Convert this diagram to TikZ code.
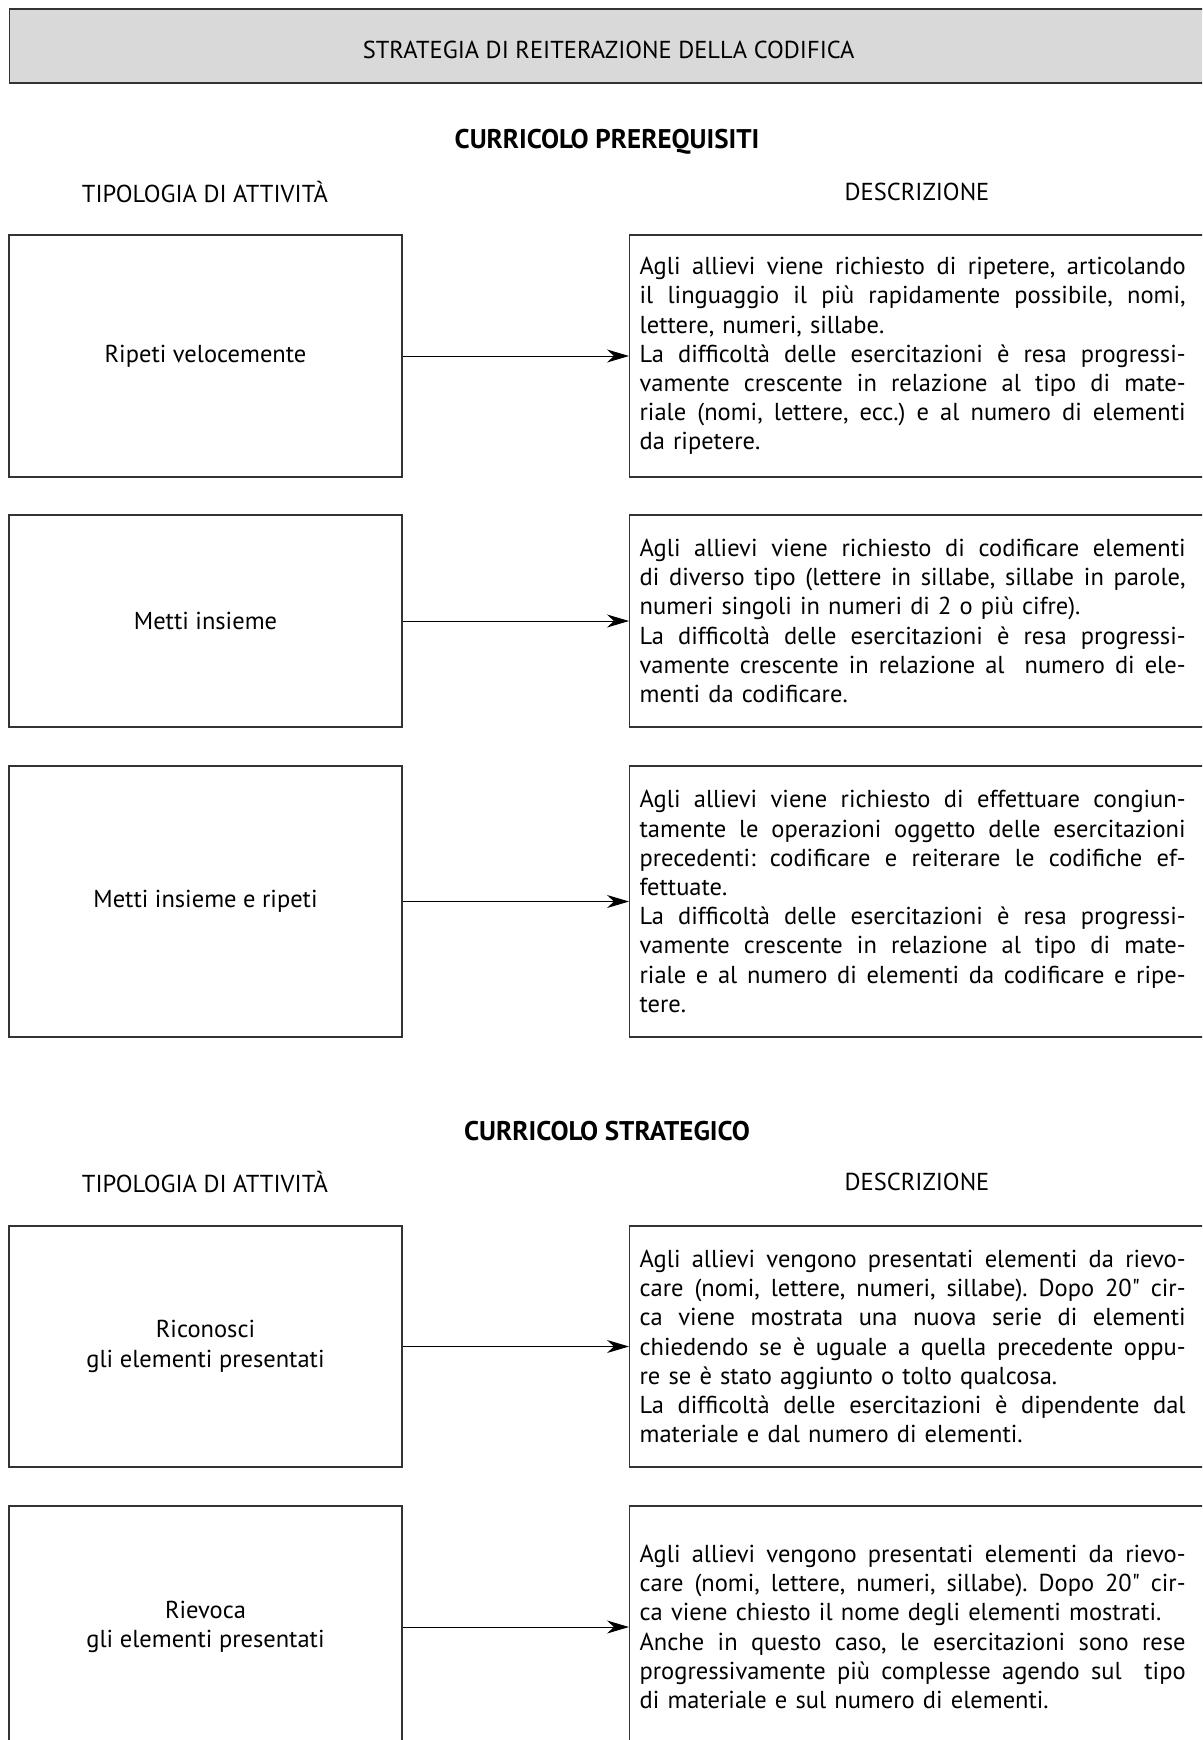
\documentclass[tikz,border=0pt]{standalone}
\usepackage{fontspec}
\setmainfont{PT Sans}
\usetikzlibrary{arrows.meta}

% one line of a description, stretched to the full width
\newcommand\jl[1]{\makebox[546pt][s]{\spaceskip=0pt\xspaceskip=0pt #1}}

\begin{document}
\frenchspacing
\begin{tikzpicture}[
	x=1pt, y=-1pt,
	every node/.style = {font=\fontsize{24.5}{29.2}\selectfont},
	frame/.style = {draw=black!80, line width=1.3pt},
	head/.style = {font=\fontsize{27}{30}\selectfont\bfseries},
	act/.style = {frame, shape=rectangle, minimum width=393pt,
		align=center, inner sep=0pt},
	desc/.style = {frame, shape=rectangle, anchor=west, text width=600pt,
		inner xsep=10pt, inner ysep=0pt, align=left},
	link/.style = {-{Stealth[length=22pt, width=13pt, inset=7pt]}, line width=1pt}]

	\clip (0,0) rectangle (1202,1740);

	\node[frame, fill=black!15, anchor=west, minimum width=1198pt,
		minimum height=74pt, inner sep=0pt, text height=24pt, text depth=0pt]
		(title) at (9,46) {STRATEGIA DI REITERAZIONE DELLA CODIFICA};

	% curricolo prerequisiti
	\node[head] (curPre) at (607,142) {CURRICOLO PREREQUISITI};
	\node (tipPre) at (205,192) {TIPOLOGIA DI ATTIVITÀ};
	\node (desPre) at (917,192) {DESCRIZIONE};

	\node[act, minimum height=242pt] (ripeti) at (205.5,356) {Ripeti velocemente};
	\node[desc, minimum height=242pt] (ripetiD) at (629,356) {%
		\jl{Agli allievi viene richiesto di ripetere, articolando}\\
		\jl{il linguaggio il più rapidamente possibile, nomi,}\\
		lettere, numeri, sillabe.\\
		\jl{La difficoltà delle esercitazioni è resa progressi-}\\
		\jl{vamente crescente in relazione al tipo di mate-}\\
		\jl{riale (nomi, lettere, ecc.) e al numero di elementi}\\
		da ripetere.};

	\node[act, minimum height=212pt] (metti) at (205.5,621) {Metti insieme};
	\node[desc, minimum height=212pt] (mettiD) at (629,621) {%
		\jl{Agli allievi viene richiesto di codificare elementi}\\
		\jl{di diverso tipo (lettere in sillabe, sillabe in parole,}\\
		numeri singoli in numeri di 2 o più cifre).\\
		\jl{La difficoltà delle esercitazioni è resa progressi-}\\
		\jl{vamente crescente in relazione al\ \ numero di ele-}\\
		menti da codificare.};

	\node[act, minimum height=271pt] (mettiRip) at (205.5,901.5) {Metti insieme e ripeti};
	\node[desc, minimum height=271pt] (mettiRipD) at (629,901.5) {%
		\jl{Agli allievi viene richiesto di effettuare congiun-}\\
		\jl{tamente le operazioni oggetto delle esercitazioni}\\
		\jl{precedenti: codificare e reiterare le codifiche ef-}\\
		fettuate.\\
		\jl{La difficoltà delle esercitazioni è resa progressi-}\\
		\jl{vamente crescente in relazione al tipo di mate-}\\
		\jl{riale e al numero di elementi da codificare e ripe-}\\
		tere.};

	% curricolo strategico
	\node[head] (curStr) at (607,1131) {CURRICOLO STRATEGICO};
	\node (tipStr) at (205,1182) {TIPOLOGIA DI ATTIVITÀ};
	\node (desStr) at (917,1182) {DESCRIZIONE};

	\node[act, minimum height=241pt] (riconosci) at (205.5,1346.5) {Riconosci\\gli elementi presentati};
	\node[desc, minimum height=241pt] (riconosciD) at (629,1346.5) {%
		\jl{Agli allievi vengono presentati elementi da rievo-}\\
		\jl{care (nomi, lettere, numeri, sillabe). Dopo 20\textquotedbl{} cir-}\\
		\jl{ca viene mostrata una nuova serie di elementi}\\
		\jl{chiedendo se è uguale a quella precedente oppu-}\\
		re se è stato aggiunto o tolto qualcosa.\\
		\jl{La difficoltà delle esercitazioni è dipendente dal}\\
		materiale e dal numero di elementi.};

	\node[act, minimum height=242pt] (rievoca) at (205.5,1627) {Rievoca\\gli elementi presentati};
	\node[desc, minimum height=242pt] (rievocaD) at (629,1627) {%
		\jl{Agli allievi vengono presentati elementi da rievo-}\\
		\jl{care (nomi, lettere, numeri, sillabe). Dopo 20\textquotedbl{} cir-}\\
		ca viene chiesto il nome degli elementi mostrati.\\
		\jl{Anche in questo caso, le esercitazioni sono rese}\\
		\jl{progressivamente più complesse agendo sul\ \ tipo}\\
		di materiale e sul numero di elementi.};

	\draw[link] (ripeti.east) -- (ripetiD.west);
	\draw[link] (metti.east) -- (mettiD.west);
	\draw[link] (mettiRip.east) -- (mettiRipD.west);
	\draw[link] (riconosci.east) -- (riconosciD.west);
	\draw[link] (rievoca.east) -- (rievocaD.west);
\end{tikzpicture}
\end{document}
